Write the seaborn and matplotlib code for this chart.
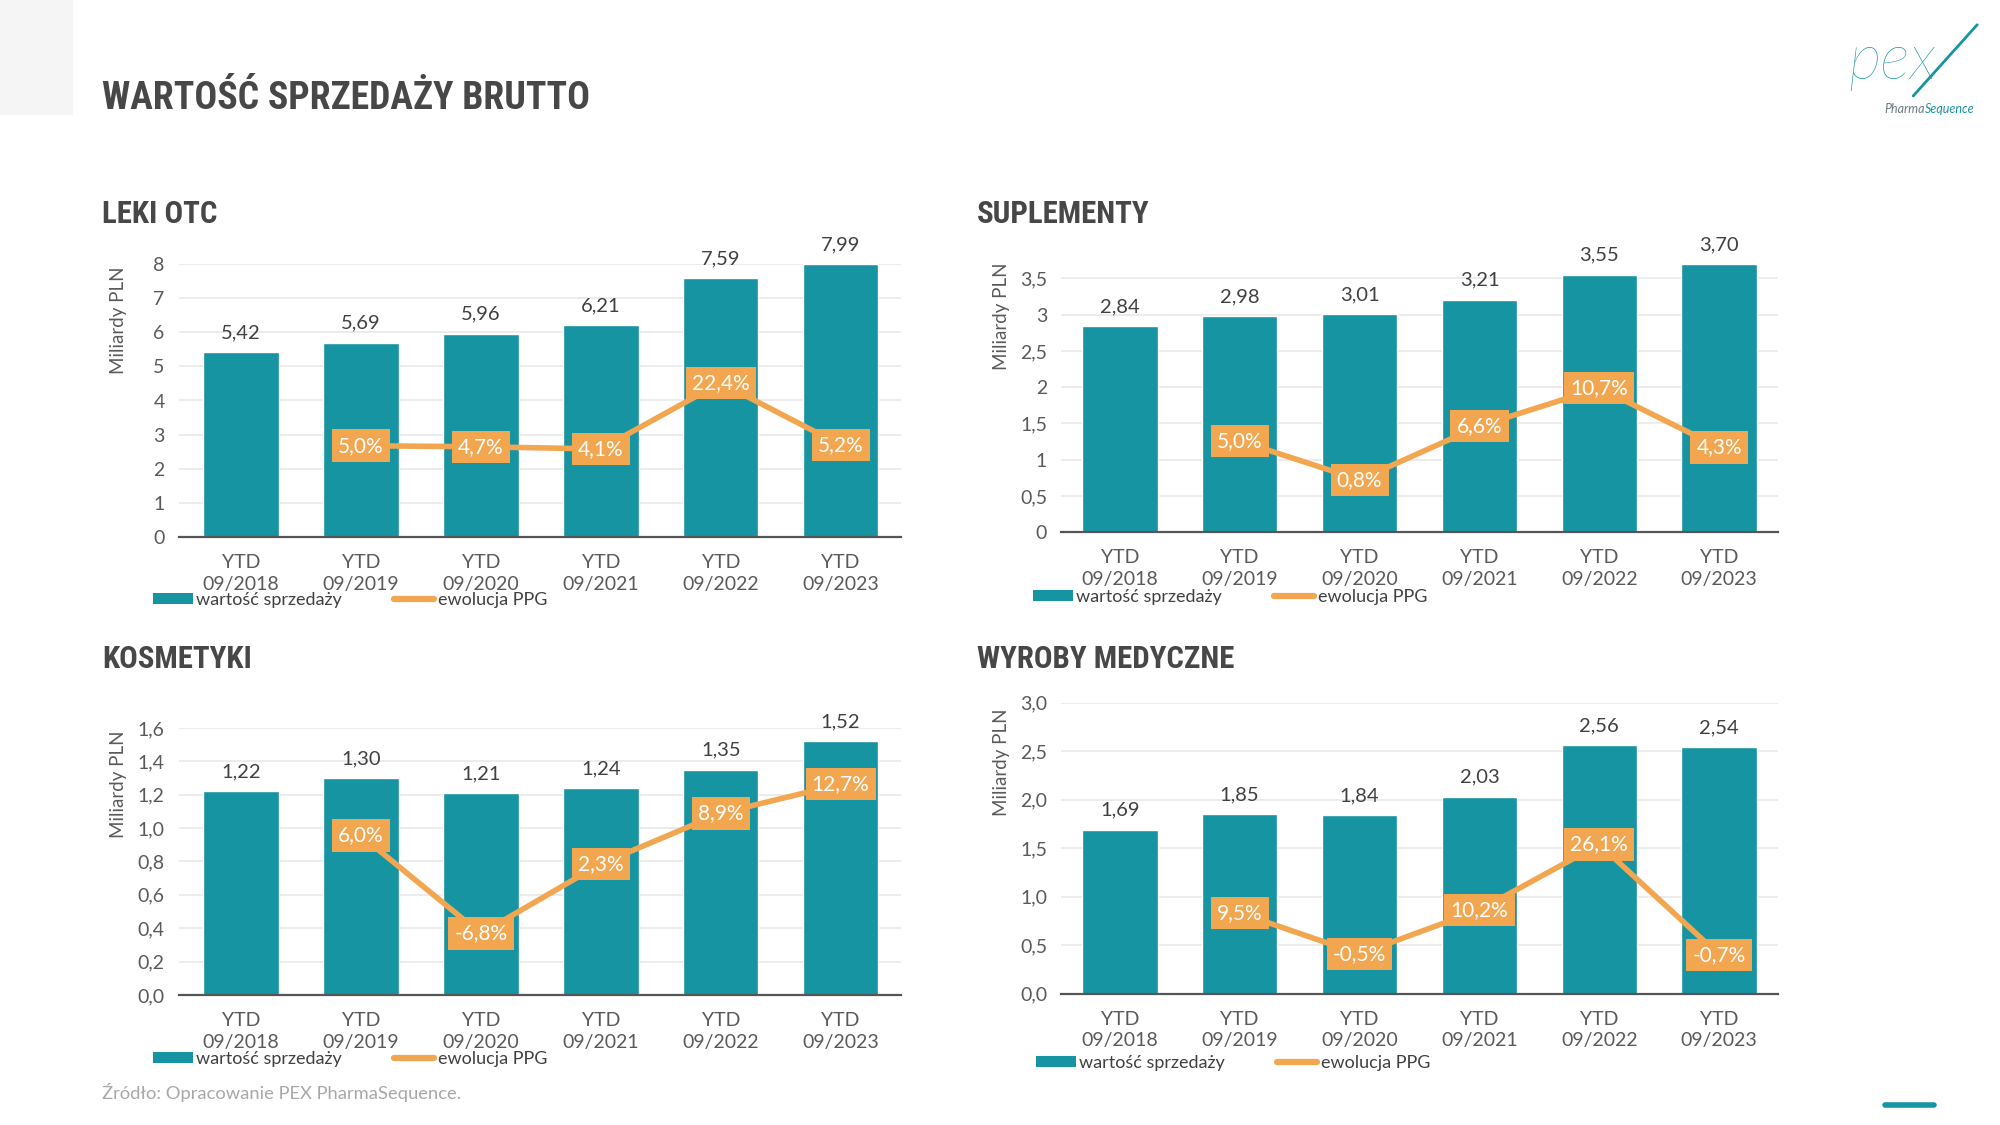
import numpy as np
import pandas as pd
import seaborn as sns
import matplotlib
matplotlib.use("Agg")
import matplotlib.pyplot as plt
from matplotlib.patches import Patch, Rectangle
from matplotlib.lines import Line2D
from matplotlib import font_manager as fm

# ---------------- data ----------------
categories = ["YTD\n09/2018", "YTD\n09/2019", "YTD\n09/2020",
              "YTD\n09/2021", "YTD\n09/2022", "YTD\n09/2023"]

otc_values = [5.42, 5.69, 5.96, 6.21, 7.59, 7.99]
otc_ppg = [np.nan, 5.0, 4.7, 4.1, 22.4, 5.2]

sup_values = [2.84, 2.98, 3.01, 3.21, 3.55, 3.70]
sup_ppg = [np.nan, 5.0, 0.8, 6.6, 10.7, 4.3]

kos_values = [1.22, 1.30, 1.21, 1.24, 1.35, 1.52]
kos_ppg = [np.nan, 6.0, -6.8, 2.3, 8.9, 12.7]

med_values = [1.69, 1.85, 1.84, 2.03, 2.56, 2.54]
med_ppg = [np.nan, 9.5, -0.5, 10.2, 26.1, -0.7]

main_title = "WARTOŚĆ SPRZEDAŻY BRUTTO"
panel_titles = ["LEKI OTC", "SUPLEMENTY", "KOSMETYKI", "WYROBY MEDYCZNE"]
legend_labels = ["wartość sprzedaży", "ewolucja PPG"]
y_label = "Miliardy PLN"
source_text = "Źródło: Opracowanie PEX PharmaSequence."

# ---------------- style ----------------
sns.set_theme(style="white")
avail = {f.name for f in fm.fontManager.ttflist}


def pick(*names):
    for n in names:
        if n in avail:
            return n
    return "DejaVu Sans"


TITLE_FONT = pick("Roboto Condensed", "Liberation Sans Narrow", "Roboto", "DejaVu Sans")
NUM_FONT = pick("Liberation Sans Narrow", "Lato", "DejaVu Sans")
LABEL_FONT = pick("Lato", "DejaVu Sans")
plt.rcParams["font.family"] = [NUM_FONT, "DejaVu Sans"]

TEAL = "#1794A2"
ORANGE = "#F2A650"
DARK = "#474747"
TICK = "#5a5a5a"
GRID = "#e9e9e9"

fig = plt.figure(figsize=(20, 11.25), dpi=100)
fig.patch.set_facecolor("white")

# decorative grey block top-left
fig.patches.append(Rectangle((0, 0.8978), 0.0365, 0.1022, transform=fig.transFigure,
                             facecolor="#f5f5f5", edgecolor="none", zorder=0))

fig.text(0.051, 0.9125, main_title, fontsize=27.2, fontweight="bold", color=DARK,
         family=TITLE_FONT, ha="left", va="center")


def dec(v, nd):
    return f"{v:.{nd}f}".replace(".", ",")


panels = [
    dict(values=otc_values, ppg=otc_ppg, rect=(0.0893, 0.5227, 0.361, 0.2426),
         ylim=(0, 8), yticks=np.arange(0, 8.01, 1), fmt=lambda t: f"{t:g}",
         y2=(-20.24, 55.24), xlim=(-0.52, 5.5), ylab=(-0.071, 0.794),
         title=(0.051, 0.8098), leg=(0.0765, 0.4665)),
    dict(values=sup_values, ppg=sup_ppg, rect=(0.5305, 0.527, 0.3585, 0.248),
         ylim=(0, 3.85), yticks=np.arange(0, 3.51, 0.5), fmt=lambda t: f"{t:g}".replace(".", ","),
         y2=(-4.84, 25.26), xlim=(-0.49, 5.49), ylab=(-0.071, 0.772),
         title=(0.4885, 0.8098), leg=(0.5165, 0.4695)),
    dict(values=kos_values, ppg=kos_ppg, rect=(0.0893, 0.1156, 0.361, 0.2373),
         ylim=(0, 1.6), yticks=np.arange(0, 1.61, 0.2), fmt=lambda t: dec(t, 1),
         y2=(-14.81, 20.03), xlim=(-0.52, 5.5), ylab=(-0.071, 0.79),
         title=(0.051, 0.414), leg=(0.0765, 0.0588)),
    dict(values=med_values, ppg=med_ppg, rect=(0.5305, 0.1168, 0.3585, 0.2585),
         ylim=(0, 3.0), yticks=np.arange(0, 3.01, 0.5), fmt=lambda t: dec(t, 1),
         y2=(-10.09, 60.47), xlim=(-0.49, 5.49), ylab=(-0.071, 0.794),
         title=(0.4885, 0.414), leg=(0.518, 0.0552)),
]

for title, p in zip(panel_titles, panels):
    ax = fig.add_axes(p["rect"])
    df = pd.DataFrame({"cat": categories, "val": p["values"]})
    sns.barplot(data=df, x="cat", y="val", color=TEAL, saturation=1, width=0.63,
                ax=ax, zorder=2)
    ax.set_xlim(*p["xlim"])
    ax.set_ylim(*p["ylim"])
    ax.set_yticks(p["yticks"])
    ax.set_yticklabels([p["fmt"](t) for t in p["yticks"]])
    ax.set_xlabel("")
    ax.set_ylabel(y_label, fontsize=13.5, color=TICK, family=LABEL_FONT)
    ax.yaxis.set_label_coords(*p["ylab"])
    ax.yaxis.grid(True, color=GRID, linewidth=1.2, zorder=0)
    ax.set_axisbelow(True)
    for s in ["top", "right", "left"]:
        ax.spines[s].set_visible(False)
    ax.spines["bottom"].set_color("#555555")
    ax.spines["bottom"].set_linewidth(1.6)
    ax.tick_params(axis="y", length=0, labelsize=14, labelcolor=TICK, pad=10)
    ax.tick_params(axis="x", length=0, labelsize=14, labelcolor=TICK, pad=12.5)
    for lab in ax.get_xticklabels():
        lab.set_linespacing(1.3)
    ax.set_facecolor("none")

    for i, v in enumerate(p["values"]):
        ax.annotate(dec(v, 2), (i, v), xytext=(0, 8), textcoords="offset points",
                    ha="center", va="bottom", fontsize=14.5, color="#404040",
                    annotation_clip=False)

    ax2 = ax.twinx()
    pos = np.arange(len(categories))
    ldf = pd.DataFrame({"x": pos, "ppg": p["ppg"]}).dropna()
    sns.lineplot(data=ldf, x="x", y="ppg", ax=ax2, color=ORANGE, linewidth=4,
                 zorder=3, legend=False)
    ax2.set_ylim(*p["y2"])
    ax2.set_xlim(*p["xlim"])
    ax2.axis("off")
    for x, v in zip(ldf["x"], ldf["ppg"]):
        ax2.text(x, v, dec(v, 1) + "%", ha="center", va="center", fontsize=15,
                 color="white", zorder=5,
                 bbox=dict(boxstyle="square,pad=0.3", facecolor=ORANGE, edgecolor="none"))

    fig.text(*p["title"], title, fontsize=22.2, fontweight="bold", color=DARK,
             family=TITLE_FONT, ha="left", va="center")

    handles = [Patch(facecolor=TEAL, edgecolor="none"),
               Line2D([0], [0], color=ORANGE, linewidth=4.5)]
    leg = ax.legend(handles, legend_labels, ncol=2, loc="center left",
                    bbox_to_anchor=p["leg"], bbox_transform=fig.transFigure,
                    frameon=False, fontsize=13, handlelength=2.2, handleheight=0.55,
                    handletextpad=0.2, columnspacing=2.9, borderpad=0, borderaxespad=0)
    for t in leg.get_texts():
        t.set_color("#404040")

# source
fig.text(0.051, 0.0293, source_text, fontsize=13.2, color="#a8a8a8",
         family=LABEL_FONT, ha="left", va="center")

# logo
fig.text(0.946, 0.945, "pex", fontsize=46, color=TEAL, style="italic",
         fontweight="light", family=LABEL_FONT, ha="center", va="center")
fig.lines.append(Line2D([0.9566, 0.9886], [0.9147, 0.978], transform=fig.transFigure,
                        color=TEAL, linewidth=2))
fig.text(0.9625, 0.903, "Pharma", fontsize=9, color="#6b7b80", style="italic",
         family=LABEL_FONT, ha="right", va="center")
fig.text(0.9625, 0.903, "Sequence", fontsize=9, color=TEAL, style="italic",
         family=LABEL_FONT, ha="left", va="center")

# bottom-right accent
fig.lines.append(Line2D([0.9425, 0.967], [0.0178, 0.0178], transform=fig.transFigure,
                        color=TEAL, linewidth=4))

fig.savefig("out.png", dpi=100, facecolor="white")
